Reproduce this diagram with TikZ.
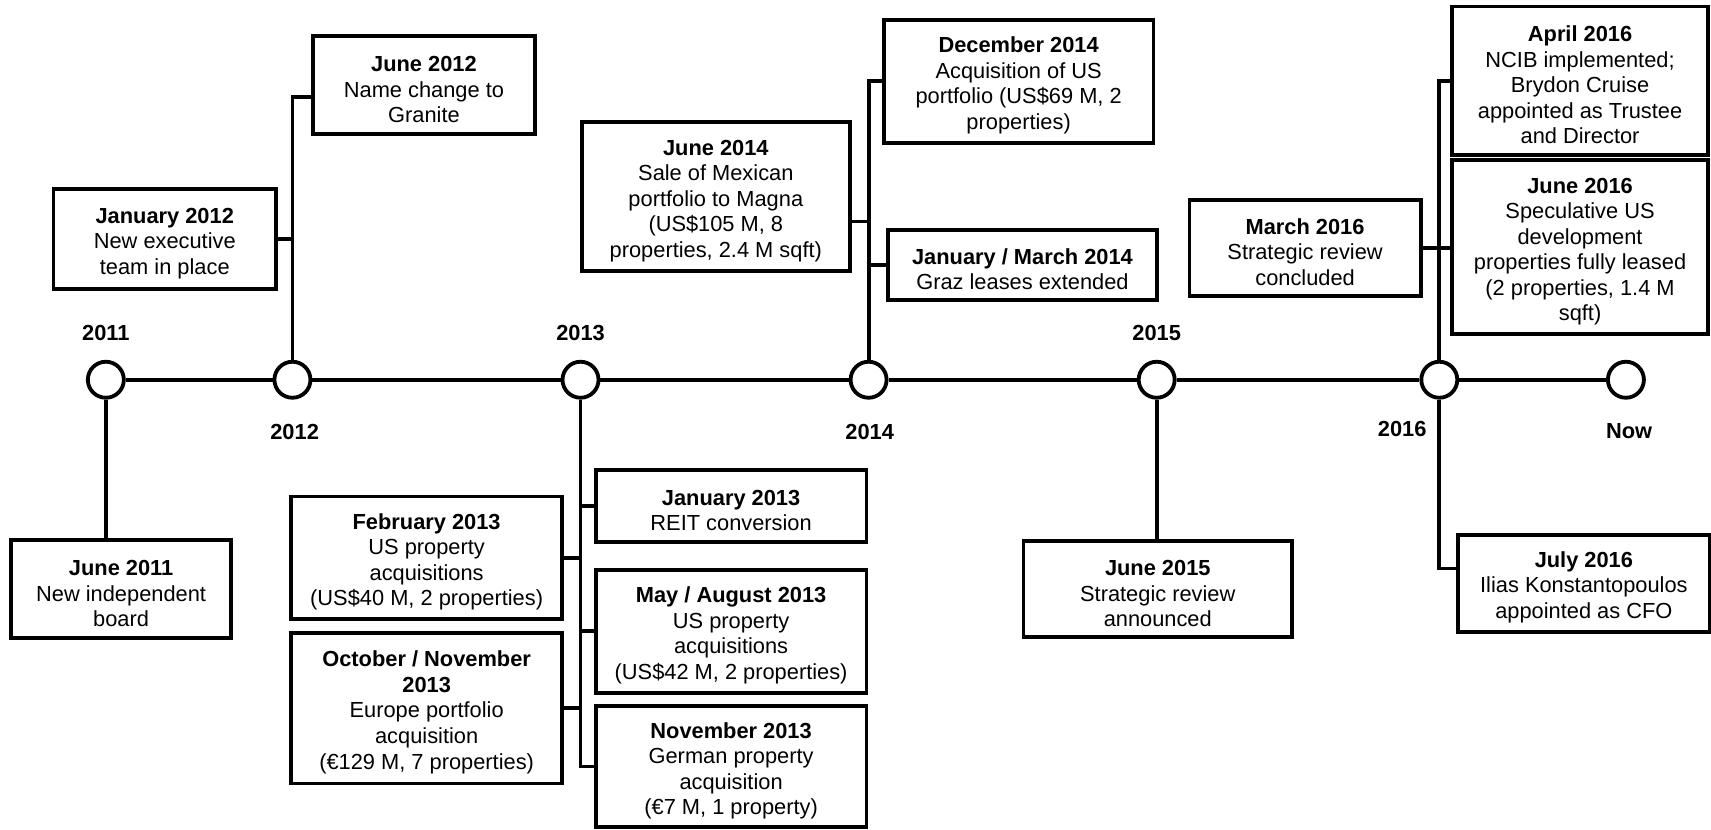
\documentclass[tikz,border=0pt]{standalone}
\usepackage{fontspec}
\setmainfont{Liberation Sans}
\newcommand\evhead[1]{\rule{0pt}{11pt}\textbf{#1}}
\begin{document}
\begin{tikzpicture}[x=0.5pt,y=-0.5pt,
  evbox/.style={draw,line width=1.75pt,align=center,inner sep=0pt,fill=white,
    font=\fontsize{10}{11.7}\selectfont},
  yearpt/.style={draw,circle,line width=1.75pt,minimum size=16.5pt,inner sep=0pt,fill=white},
  yearlbl/.style={font=\bfseries\fontsize{10}{12}\selectfont,inner sep=0pt},
  link/.style={line width=1.75pt}]
\useasboundingbox (0,0) rectangle (1568,760);

% year points
\node[yearpt] (c2011) at (97,348) {};
\node[yearpt] (c2012) at (268,348) {};
\node[yearpt] (c2013) at (532,348) {};
\node[yearpt] (c2014) at (796,348) {};
\node[yearpt] (c2015) at (1060,348) {};
\node[yearpt] (c2016) at (1319,348) {};
\node[yearpt] (cNow) at (1490,348) {};

\draw[link] (c2011) -- (c2012) -- (c2013) -- (c2014) -- (c2015) -- (c2016) -- (cNow);

% year labels
\node[yearlbl] (l2011) at (97,305) {2011};
\node[yearlbl] (l2012) at (270,396) {2012};
\node[yearlbl] (l2013) at (532,305) {2013};
\node[yearlbl] (l2014) at (797,396) {2014};
\node[yearlbl] (l2015) at (1060,305) {2015};
\node[yearlbl] (l2016) at (1285,393) {2016};
\node[yearlbl] (lNow) at (1493,395) {Now};

% boxes
\node[evbox,minimum width=101pt,minimum height=45pt] (jun2011) at (111,540)
  {\evhead{June 2011}\\New independent\\board};
\node[evbox,minimum width=102pt,minimum height=46pt] (jan2012) at (151,219)
  {\evhead{January 2012}\\New executive\\team in place};
\node[evbox,minimum width=101.5pt,minimum height=45pt] (jun2012) at (388.5,78)
  {\evhead{June 2012}\\Name change to\\Granite};
\node[evbox,minimum width=124pt,minimum height=33pt] (jan2013) at (670,464)
  {\evhead{January 2013}\\REIT conversion};
\node[evbox,minimum width=124pt,minimum height=56pt] (feb2013) at (391,511)
  {\evhead{February 2013}\\US property\\acquisitions\\(US\$40 M, 2 properties)};
\node[evbox,minimum width=124pt,minimum height=56.5pt] (may2013) at (670,578.5)
  {\evhead{May / August 2013}\\US property\\acquisitions\\(US\$42 M, 2 properties)};
\node[evbox,minimum width=124pt,minimum height=69pt] (oct2013) at (391,649)
  {\evhead{October / November}\\\textbf{2013}\\Europe portfolio\\acquisition\\(€129 M, 7 properties)};
\node[evbox,minimum width=124pt,minimum height=55.5pt] (nov2013) at (670,702.5)
  {\evhead{November 2013}\\German property\\acquisition\\(€7 M, 1 property)};
\node[evbox,minimum width=123pt,minimum height=68pt] (jun2014) at (656,180)
  {\evhead{June 2014}\\Sale of Mexican\\portfolio to Magna\\(US\$105 M, 8\\properties, 2.4 M sqft)};
\node[evbox,minimum width=123.5pt,minimum height=56.5pt] (dec2014) at (933.5,74.5)
  {\evhead{December 2014}\\Acquisition of US\\portfolio (US\$69 M, 2\\properties)};
\node[evbox,minimum width=123pt,minimum height=32pt] (janmar2014) at (937,243)
  {\evhead{January / March 2014}\\Graz leases extended};
\node[evbox,minimum width=123pt,minimum height=44pt] (jun2015) at (1061,540)
  {\evhead{June 2015}\\Strategic review\\announced};
\node[evbox,minimum width=106pt,minimum height=44pt] (mar2016) at (1196,227)
  {\evhead{March 2016}\\Strategic review\\concluded};
\node[evbox,minimum width=117pt,minimum height=68pt] (apr2016) at (1448,74)
  {\evhead{April 2016}\\NCIB implemented;\\Brydon Cruise\\appointed as Trustee\\and Director};
\node[evbox,minimum width=117pt,minimum height=79.5pt] (jun2016) at (1448,226.5)
  {\evhead{June 2016}\\Speculative US\\development\\properties fully leased\\(2 properties, 1.4 M\\sqft)};
\node[evbox,minimum width=115.5pt,minimum height=44.5pt] (jul2016) at (1451.5,534.5)
  {\evhead{July 2016}\\Ilias Konstantopoulos\\appointed as CFO};

% junction coordinates
\coordinate (k2012) at (268,89);
\coordinate (k2014) at (796,203);
\coordinate (k2016) at (1319,521);

% connectors
\draw[link] (c2011.south) -- (c2011.south |- jun2011.north);
\draw[link] (c2012.north) -- (k2012) -- (k2012 -| jun2012.west);
\draw[link] (jan2012.east) -- (jan2012.east -| k2012);
\draw[link] (c2013.south) -- (c2013.south |- nov2013.west) -- (nov2013.west);
\draw[link] (jan2013.west) -- (jan2013.west -| c2013);
\draw[link] (feb2013.east) -- (feb2013.east -| c2013);
\draw[link] (may2013.west) -- (may2013.west -| c2013);
\draw[link] (oct2013.east) -- (oct2013.east -| c2013);
\draw[link] (c2014.north) -- (c2014.north |- dec2014.west) -- (dec2014.west);
\draw[link] (k2014 -| jun2014.east) -- (k2014);
\draw[link] (janmar2014.west) -- (janmar2014.west -| c2014);
\draw[link] (c2015.south) -- (c2015.south |- jun2015.north);
\draw[link] (c2016.north) -- (c2016.north |- apr2016.west) -- (apr2016.west);
\draw[link] (mar2016.east) -- (mar2016.east -| jun2016.west);
\draw[link] (c2016.south) -- (k2016) -- (k2016 -| jul2016.west);
\end{tikzpicture}
\end{document}
